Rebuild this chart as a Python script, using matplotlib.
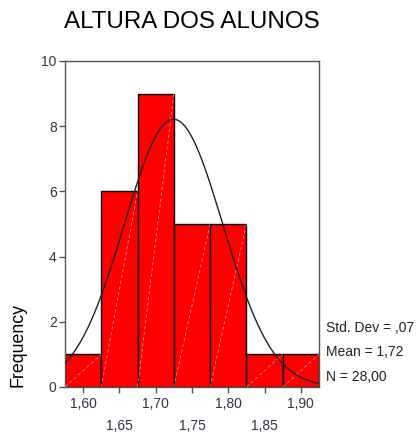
import matplotlib
matplotlib.use("Agg")
import matplotlib.pyplot as plt
import numpy as np

plt.rcParams['font.family'] = ['Liberation Sans', 'DejaVu Sans']

# histogram data (bin centres, counts)
centers = [1.60, 1.65, 1.70, 1.75, 1.80, 1.85, 1.90]
counts = [1, 6, 9, 5, 5, 1, 1]
bin_width = 0.05
mean = 1.7246
std = 0.068
n = 28

major_ticks = [1.60, 1.70, 1.80, 1.90]
minor_ticks = [1.65, 1.75, 1.85]
stats_lines = ["Std. Dev = ,07", "Mean = 1,72", "N = 28,00"]

fig = plt.figure(figsize=(4.17, 4.33), dpi=100)
ax = fig.add_axes([65 / 417, 1 - 387 / 433, 254 / 417, 326 / 433])

ax.bar(centers, counts, width=bin_width, color="#ff0000",
       edgecolor="black", linewidth=1.0, zorder=2)

# faint diagonal streaks inside each bar
for c, h in zip(centers, counts):
    ax.plot([c - bin_width / 2, c + bin_width / 2], [0, h],
            color="white", lw=0.6, ls=(0, (4, 3)), alpha=0.55, zorder=3)

xs = np.linspace(1.575, 1.925, 400)
ys = n * bin_width / (std * np.sqrt(2 * np.pi)) * np.exp(-0.5 * ((xs - mean) / std) ** 2)
ax.plot(xs, ys, color="#222222", lw=1.0, zorder=4)

ax.set_xlim(1.575, 1.925)
ax.set_ylim(0, 10)
ax.set_yticks([0, 2, 4, 6, 8, 10])
ax.set_xticks(major_ticks)
ax.set_xticklabels([f"{v:.2f}".replace(".", ",") for v in major_ticks])
ax.set_xticks(minor_ticks, minor=True)
ax.set_xticklabels([f"{v:.2f}".replace(".", ",") for v in minor_ticks], minor=True)

ax.tick_params(axis="both", which="both", direction="out", length=4, width=1,
               color="#555555", labelsize=10, labelcolor="#333344")
ax.tick_params(axis="x", which="major", pad=3)
ax.tick_params(axis="x", which="minor", pad=19)
ax.tick_params(axis="y", pad=2)
for s in ax.spines.values():
    s.set_color("#555555")
    s.set_linewidth(1.0)

fig.text(192 / 417, 1 - 22 / 433, "ALTURA DOS ALUNOS", ha="center", va="center",
         fontsize=17.4, color="black")
fig.text(18 / 417, 1 - 345 / 433, "Frequency", rotation=90, ha="center",
         va="center", fontsize=12.8, color="black")

for i, t in enumerate(stats_lines):
    fig.text(326 / 417, 1 - (328 + i * 24.5) / 433, t, ha="left", va="center",
             fontsize=10, color="#222222")

fig.savefig("out.png", dpi=100)
